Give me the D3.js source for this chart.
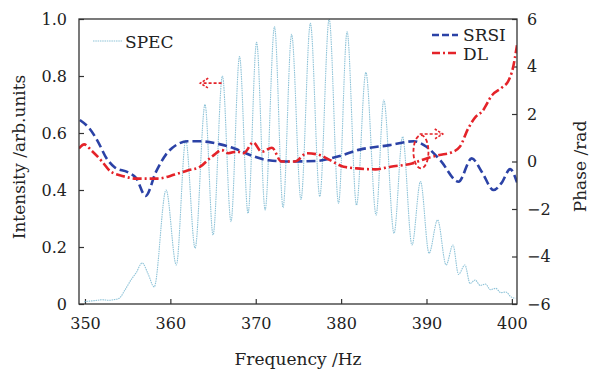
<!DOCTYPE html>
<html>
<head>
<meta charset="utf-8">
<script src="https://cdn.jsdelivr.net/npm/d3@7"></script>
<style>
  body { margin: 0; background: #fff; }
  text { font-family: "DejaVu Serif", serif; fill: #222; }
</style>
</head>
<body>
<div id="chart-area"></div>
<script>
// tick labels
var xTicks = [350, 360, 370, 380, 390, 400];
var intensityTicks = [0, 0.2, 0.4, 0.6, 0.8, 1.0];
var phaseTicks = [-6, -4, -2, 0, 2, 4, 6];

// SPEC: measured spectrum (left axis)
var specFreq = [349.9, 350.5, 351.2, 352.0, 352.8, 353.5, 354.0, 354.7, 355.4, 356.0,
    356.7, 357.4, 358.1, 359.5, 360.7, 361.8, 362.9, 364.06, 365.0, 366.1,
    367.1, 368.1, 369.1, 370.1, 371.1, 372.2, 373.2, 374.2, 375.3, 376.4,
    377.5, 378.6, 379.7, 380.7, 381.8, 382.9, 384.1, 385.0, 386.2, 387.2,
    388.3, 389.3, 390.3, 391.3, 392.3, 393.1, 393.75, 394.5, 395.1, 395.7,
    396.3, 396.9, 397.5, 398.1, 398.7, 399.3, 399.9, 400.4];
var specInt = [0.008, 0.01, 0.012, 0.015, 0.013, 0.016, 0.02, 0.05, 0.085, 0.11,
    0.144, 0.105, 0.06, 0.40, 0.137, 0.575, 0.196, 0.70, 0.242, 0.80,
    0.289, 0.868, 0.318, 0.918, 0.33, 0.973, 0.338, 0.946, 0.367, 0.985,
    0.377, 1.0, 0.353, 0.955, 0.347, 0.813, 0.312, 0.716, 0.248, 0.587,
    0.207, 0.43, 0.178, 0.295, 0.137, 0.207, 0.104, 0.137, 0.072, 0.084,
    0.065, 0.07, 0.05, 0.055, 0.04, 0.042, 0.025, 0.02];

// SRSI: retrieved phase (right axis)
var srsiFreq = [349.4, 350.5, 351.5, 352.5, 353.5, 355.0, 356.0, 357.1, 358.3, 359.5,
    360.8, 362.0, 363.5, 365.5, 367.5, 369.5, 371.5, 374.0, 377.0, 379.5,
    382.2, 385.7, 388.5, 390.0, 391.6, 393.75, 395.3, 396.5, 397.85, 398.8,
    399.8, 400.6];
var srsiPhase = [1.75, 1.4, 0.85, 0.15, -0.25, -0.45, -0.7, -1.45, -0.45, 0.3,
    0.72, 0.85, 0.85, 0.75, 0.55, 0.25, 0.05, 0.0, 0.02, 0.2,
    0.5, 0.69, 0.85, 0.62, 0.06, -0.85, 0.13, -0.45, -1.2, -0.9,
    -0.32, -0.88];

// DL: reference phase (right axis)
var dlFreq = [349.3, 349.9, 350.8, 352.0, 353.0, 354.5, 356.0, 358.5, 360.5, 362.0,
    363.5, 364.5, 365.2, 366.0, 366.8, 367.8, 368.6, 369.7, 370.7, 371.9,
    373.0, 374.6, 376.0, 377.5, 378.7, 380.3, 382.2, 384.0, 385.8, 388.3,
    390.0, 391.5, 392.9, 393.9, 394.9, 395.8, 396.5, 397.7, 398.8, 399.6,
    400.1, 400.6];
var dlPhase = [0.55, 0.72, 0.45, 0.0, -0.42, -0.62, -0.72, -0.72, -0.55, -0.38,
    -0.22, 0.1, 0.3, 0.48, 0.35, 0.42, 0.35, 0.8, 0.41, 0.58,
    0.0, 0.0, 0.35, 0.27, 0.06, -0.22, -0.3, -0.33, -0.22, -0.08,
    0.13, 0.27, 0.38, 0.62, 1.4, 1.9, 2.1, 2.8, 3.1, 3.4,
    3.9, 4.9];

// annotations in data units
var leftArrow = { tip: [363.5, 0.775], tail: [366.0, 0.775] };      // intensity axis
var rightEllipse = { c: [389.35, 0.41], rx: 0.88, ry: 0.7 };        // phase axis
var rightArrow = { tail: [389.2, 1.16], tip: [391.9, 1.16] };       // phase axis

var margin = { top: 19, right: 73, bottom: 68, left: 79 },
    width = 590 - margin.left - margin.right,
    height = 372 - margin.top - margin.bottom;

var blue = "#2b42a6", red = "#e42329", lightBlue = "#8ec3d8";

var svg = d3.select("#chart-area")
    .append("svg")
    .attr("width", 590)
    .attr("height", 372)
    .append("g")
    .attr("transform", "translate(" + margin.left + "," + margin.top + ")");

var xScale = d3.scaleLinear().domain([349.3, 400.6]).range([0, width]);
var yLeft = d3.scaleLinear().domain([0, 1]).range([height, 0]);
var yRight = d3.scaleLinear().domain([-6, 6]).range([height, 0]);

// axes, ticks pointing inward
svg.append("g")
    .attr("transform", "translate(0," + height + ")")
    .call(d3.axisBottom(xScale).tickValues(xTicks).tickSize(-5).tickPadding(14))
    .call(function(g) { g.select(".domain").remove(); });

svg.append("g")
    .call(d3.axisLeft(yLeft).tickValues(intensityTicks).tickSize(-5).tickPadding(12)
        .tickFormat(function(d) { return d === 0 ? "0" : d3.format(".1f")(d); }))
    .call(function(g) { g.select(".domain").remove(); });

svg.append("g")
    .attr("transform", "translate(" + width + ",0)")
    .call(d3.axisRight(yRight).tickValues(phaseTicks).tickSize(-5).tickPadding(10))
    .call(function(g) { g.select(".domain").remove(); });

svg.selectAll(".tick text").style("font-size", "16px").style("fill", "#222");
svg.selectAll(".tick line").attr("stroke", "#333").attr("stroke-width", 1.2);

// series
var clip = svg.append("clipPath").attr("id", "plotclip")
    .append("rect").attr("width", width).attr("height", height);

var lineLeft = d3.line()
    .x(function(d) { return xScale(d[0]); })
    .y(function(d) { return yLeft(d[1]); })
    .curve(d3.curveMonotoneX);

var lineRight = d3.line()
    .x(function(d) { return xScale(d[0]); })
    .y(function(d) { return yRight(d[1]); })
    .curve(d3.curveMonotoneX);

svg.append("path")
    .datum(d3.zip(specFreq, specInt))
    .attr("clip-path", "url(#plotclip)")
    .attr("fill", "none")
    .attr("stroke", lightBlue)
    .attr("stroke-width", 1.1)
    .attr("stroke-dasharray", "1.5,0.8")
    .attr("d", lineLeft);

svg.append("path")
    .datum(d3.zip(srsiFreq, srsiPhase))
    .attr("clip-path", "url(#plotclip)")
    .attr("fill", "none")
    .attr("stroke", blue)
    .attr("stroke-width", 2.6)
    .attr("stroke-dasharray", "9,4")
    .attr("d", lineRight);

svg.append("path")
    .datum(d3.zip(dlFreq, dlPhase))
    .attr("clip-path", "url(#plotclip)")
    .attr("fill", "none")
    .attr("stroke", red)
    .attr("stroke-width", 2.6)
    .attr("stroke-dasharray", "9,3,2,3")
    .attr("d", lineRight);

// annotation arrows
function arrow(tail, tip, yScale, dir) {
    var x0 = xScale(tail[0]), y0 = yScale(tail[1]);
    var x1 = xScale(tip[0]), y1 = yScale(tip[1]);
    svg.append("line")
        .attr("x1", x0).attr("y1", y0).attr("x2", x1 - dir * 2).attr("y2", y1)
        .attr("stroke", red).attr("stroke-width", 1.6).attr("stroke-dasharray", "3,2");
    svg.append("path")
        .attr("d", "M" + (x1 - dir * 8) + "," + (y1 - 5) + "L" + x1 + "," + y1 + "L" + (x1 - dir * 8) + "," + (y1 + 5))
        .attr("fill", "none").attr("stroke", red).attr("stroke-width", 1.6)
        .attr("stroke-dasharray", "2.5,1.5");
}
arrow(leftArrow.tail, leftArrow.tip, yLeft, -1);
arrow(rightArrow.tail, rightArrow.tip, yRight, 1);

svg.append("ellipse")
    .attr("cx", xScale(rightEllipse.c[0]))
    .attr("cy", yRight(rightEllipse.c[1]))
    .attr("rx", xScale(rightEllipse.c[0] + rightEllipse.rx) - xScale(rightEllipse.c[0]))
    .attr("ry", yRight(rightEllipse.c[1]) - yRight(rightEllipse.c[1] + rightEllipse.ry))
    .attr("fill", "none").attr("stroke", red).attr("stroke-width", 1.8)
    .attr("stroke-dasharray", "4,2.5");

// frame
svg.append("rect")
    .attr("width", width).attr("height", height)
    .attr("fill", "none").attr("stroke", "#333").attr("stroke-width", 1.3);

// legends
svg.append("line").attr("x1", 14).attr("x2", 43).attr("y1", 22).attr("y2", 22)
    .attr("stroke", lightBlue).attr("stroke-width", 1.1).attr("stroke-dasharray", "1.5,0.8");
svg.append("text").attr("x", 46).attr("y", 29).style("font-size", "17px").text("SPEC");

svg.append("line").attr("x1", 353).attr("x2", 379).attr("y1", 16).attr("y2", 16)
    .attr("stroke", blue).attr("stroke-width", 2.6).attr("stroke-dasharray", "7,3");
svg.append("text").attr("x", 384).attr("y", 22).style("font-size", "17px").text("SRSI");

svg.append("line").attr("x1", 353).attr("x2", 379).attr("y1", 34).attr("y2", 34)
    .attr("stroke", red).attr("stroke-width", 2.6).attr("stroke-dasharray", "8,3,2,3");
svg.append("text").attr("x", 384).attr("y", 41).style("font-size", "17px").text("DL");

// axis titles
svg.append("text")
    .attr("x", width / 2).attr("y", height + 61)
    .style("text-anchor", "middle").style("font-size", "17px")
    .text("Frequency /Hz");

svg.append("text")
    .attr("transform", "translate(" + (-60) + "," + 138 + ") rotate(-90)")
    .attr("dy", "0.35em")
    .style("text-anchor", "middle").style("font-size", "17px")
    .text("Intensity /arb.units");

svg.append("text")
    .attr("transform", "translate(" + (width + 63) + "," + (height / 2 + 5) + ") rotate(-90)")
    .attr("dy", "0.35em")
    .style("text-anchor", "middle").style("font-size", "17px")
    .text("Phase /rad");
</script>
</body>
</html>
